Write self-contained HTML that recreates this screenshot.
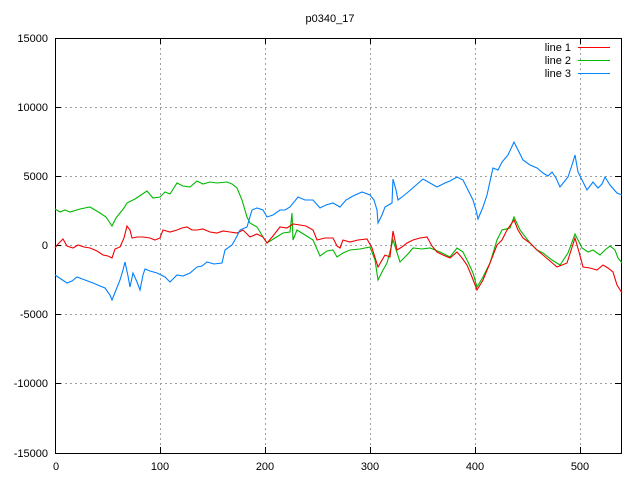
<!DOCTYPE html>
<html><head><meta charset="utf-8"><style>body{margin:0;background:#fff}svg{display:block}text{font-family:"Liberation Sans",sans-serif;font-size:11px;fill:#000}</style></head><body>
<svg width="640" height="480" xmlns="http://www.w3.org/2000/svg">
<rect width="640" height="480" fill="#fff"/>
<g stroke="#a0a0a0" stroke-dasharray="2,3" stroke-width="1">
<line x1="55" y1="107.5" x2="621" y2="107.5"/><line x1="55" y1="176.5" x2="621" y2="176.5"/><line x1="55" y1="245.5" x2="621" y2="245.5"/><line x1="55" y1="314.5" x2="621" y2="314.5"/><line x1="55" y1="383.5" x2="621" y2="383.5"/>
<line x1="160.5" y1="38" x2="160.5" y2="453"/><line x1="265.5" y1="38" x2="265.5" y2="453"/><line x1="370.5" y1="38" x2="370.5" y2="453"/><line x1="475.5" y1="38" x2="475.5" y2="453"/><line x1="580.5" y1="38" x2="580.5" y2="453"/>
</g>
<g stroke="#000" stroke-width="1">
<rect x="55.5" y="38.5" width="566" height="415" fill="none"/>
<path d="M55 107.5h6M55 176.5h6M55 245.5h6M55 314.5h6M55 383.5h6M621 107.5h-6M621 176.5h-6M621 245.5h-6M621 314.5h-6M621 383.5h-6M160.5 453v-6M265.5 453v-6M370.5 453v-6M475.5 453v-6M580.5 453v-6M160.5 38v6M265.5 38v6M370.5 38v6M475.5 38v6M580.5 38v6"/>
</g>
<g text-anchor="end">
<text x="48" y="42">15000</text><text x="48" y="111">10000</text><text x="48" y="180">5000</text><text x="48" y="249">0</text><text x="48" y="318">-5000</text><text x="48" y="387">-10000</text><text x="48" y="457">-15000</text>
</g>
<g text-anchor="middle">
<text x="56" y="470">0</text><text x="160" y="470">100</text><text x="265" y="470">200</text><text x="370" y="470">300</text><text x="475" y="470">400</text><text x="580" y="470">500</text>
<text x="330" y="22">p0340_17</text>
</g>
<g text-anchor="end"><text x="571" y="51">line 1</text><text x="571" y="64">line 2</text><text x="571" y="77">line 3</text></g>
<line x1="578" y1="47.5" x2="610" y2="47.5" stroke="#f00"/>
<line x1="578" y1="60.5" x2="610" y2="60.5" stroke="#0b0"/>
<line x1="578" y1="73.5" x2="610" y2="73.5" stroke="#08f"/>
<g fill="none" stroke-width="1.1">
<polyline stroke="#00b800" points="55,209 60,212 65,210 70,212 80,209 90,207 100,213 106,217 112,226 116,218 120,213 124,208 127,203 135,199 141,195 147,191 153,198 160,197 165,192 170,194 177,183 183,186 190,187 197,181 203,184 210,182 217,183 227,182 232,184 237,188 242,200 247,217 250,223 257,227 263,237 267,243 275,238 283,233 290,232 292,213 293,240 297,230 305,235 313,240 320,256 327,251 333,250 337,257 343,253 350,250 360,249 370,247 375,260 378,280 383,270 387,263 393,240 400,262 407,255 413,248 422,249 430,248 440,252 450,257 457,248 463,252 468,262 473,273 477,287 483,277 490,263 497,240 502,230 510,228 514,217 520,230 530,243 537,250 543,253 552,260 560,265 568,253 575,234 582,248 588,252 593,250 600,255 605,250 610,246 615,250 618,258 622,263"/>
<polyline stroke="#f00000" points="55,248 58,244 63,239 67,246 73,248 78,245 84,247 90,248 97,251 103,255 108,256 112,258 115,249 120,247 124,238 127,226 130,230 132,238 137,237 143,237 150,238 155,240 160,238 163,230 170,232 177,230 182,228 187,227 192,230 197,230 203,229 210,232 217,233 223,231 230,232 237,233 243,230 250,237 257,234 263,237 267,243 273,236 280,227 287,228 293,224 300,225 306,226 313,230 317,240 325,238 333,238 337,246 340,248 343,240 350,242 358,240 367,239 372,248 378,267 385,255 390,257 393,231 397,250 402,247 407,243 413,240 420,238 427,237 432,246 437,252 443,255 450,258 457,252 462,258 467,265 472,277 477,290 483,280 490,263 497,245 502,240 507,230 514,220 518,230 523,238 530,243 537,250 543,255 550,261 557,267 562,265 567,263 575,238 579,252 583,267 590,268 597,270 603,265 608,268 613,272 617,285 622,293"/>
<polyline stroke="#0080ff" points="55,275 61,279 67,283 72,281 77,277 85,280 93,283 100,286 105,288 110,295 112,300 116,290 120,280 123,270 125,262 128,276 130,287 133,273 137,282 140,290 143,275 145,269 150,271 157,273 165,277 170,282 177,275 183,276 190,273 197,267 202,266 207,262 214,264 222,263 225,250 232,245 236,238 240,230 247,227 252,210 257,208 263,210 267,217 273,215 280,210 285,210 290,207 298,197 305,200 313,200 320,208 326,205 333,203 340,207 346,200 353,196 362,192 370,195 374,200 377,210 378,223 382,215 385,207 392,203 393,179 396,190 398,200 402,197 407,193 415,186 423,179 430,183 437,187 445,183 450,181 457,177 463,180 468,190 473,200 476,210 478,219 483,207 487,195 493,168 498,170 502,162 508,155 514,142 518,150 523,160 530,165 537,168 543,173 548,176 552,172 556,178 560,187 564,182 568,177 572,165 575,155 578,172 582,180 587,190 593,182 598,188 602,184 605,177 610,185 617,193 622,195"/>
</g>
</svg>
</body></html>
